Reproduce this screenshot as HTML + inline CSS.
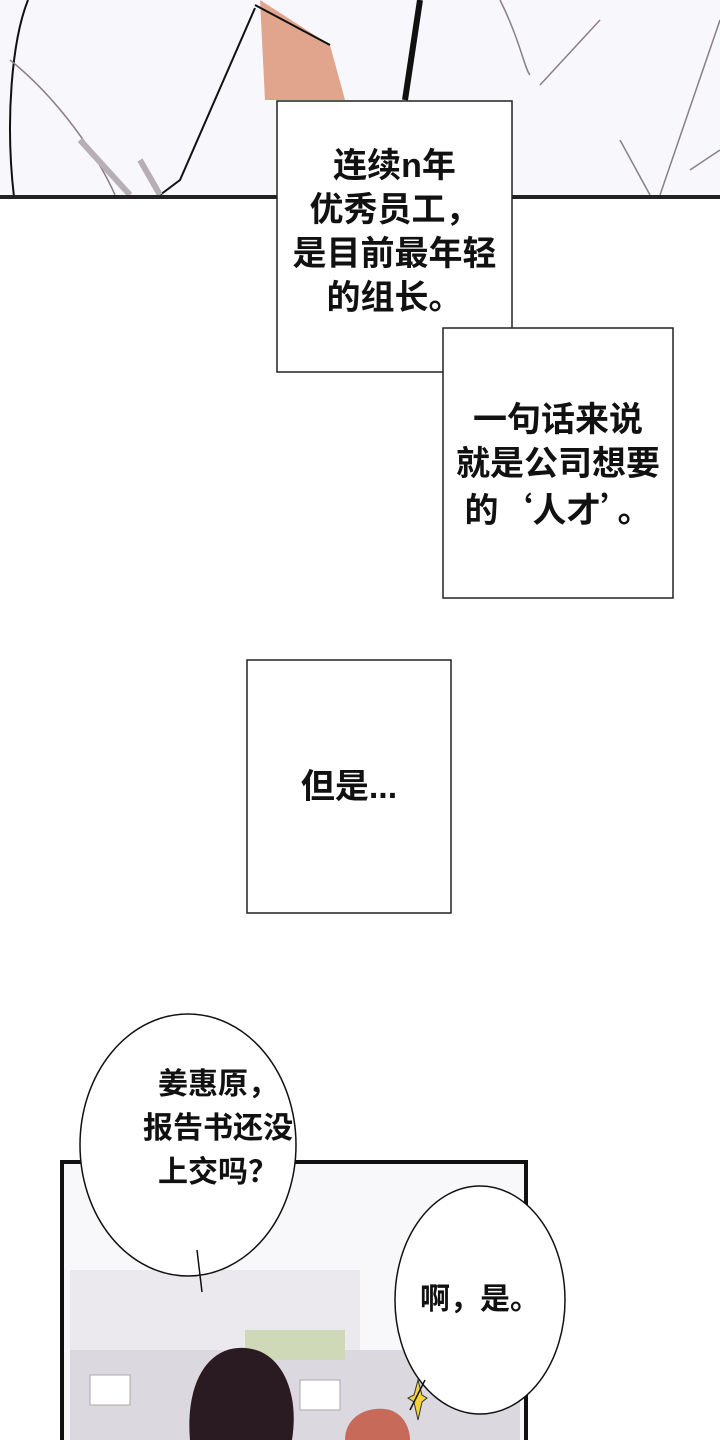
<!DOCTYPE html>
<html><head><meta charset="utf-8"><style>
body{margin:0;width:720px;height:1440px;background:#fff;position:relative;overflow:hidden;font-family:"Liberation Sans","Noto Sans CJK SC",sans-serif;}
.t{position:absolute;font-weight:bold;font-size:34px;color:#111;text-align:center;line-height:44px;white-space:nowrap}
.cj{font-family:"Noto Sans CJK SC",sans-serif}
</style></head><body>
<svg width="720" height="1440" style="position:absolute;left:0;top:0">
<rect x="0" y="0" width="720" height="197" fill="#f7f7fc"/>
<path d="M14,197 C5,120 12,40 28,0" stroke="#111" stroke-width="2" fill="none"/>
<path d="M10,60 C60,100 100,160 115,195" stroke="#8a7f88" stroke-width="1.5" fill="none"/>
<path d="M255,8 L180,180 L160,195" stroke="#111" stroke-width="2" fill="none"/>
<path d="M260,0 L330,45 L345,100 L265,100 Z" fill="#e0a58c"/>
<path d="M255,5 L330,45" stroke="#111" stroke-width="2" fill="none"/>
<path d="M420,0 L405,100" stroke="#111" stroke-width="6" fill="none"/>
<path d="M500,0 C520,40 525,70 530,75 M600,20 L540,85" stroke="#8a7f88" stroke-width="1.5" fill="none"/>
<path d="M720,20 L660,195 M620,140 L650,195 M690,170 L720,150" stroke="#8a7f88" stroke-width="1.5" fill="none"/>
<path d="M80,140 L130,195 M140,160 L160,195" stroke="#b8aeb6" stroke-width="6" fill="none"/>
<rect x="0" y="195" width="720" height="4" fill="#222"/>
<rect x="277" y="101" width="235" height="271" fill="#fff" stroke="#222" stroke-width="1.5"/>
<rect x="443" y="328" width="230" height="270" fill="#fff" stroke="#222" stroke-width="1.5"/>
<rect x="247" y="660" width="204" height="253" fill="#fff" stroke="#222" stroke-width="1.5"/>
<rect x="62" y="1162" width="464" height="280" fill="#f8f7fa" stroke="#111" stroke-width="4"/>
<rect x="70" y="1270" width="290" height="170" fill="#ebe8ee"/>
<rect x="70" y="1350" width="450" height="90" fill="#dcd8df"/>
<rect x="245" y="1330" width="100" height="30" fill="#cfd9b8"/>
<rect x="90" y="1375" width="40" height="30" fill="#fff" stroke="#aaa"/>
<rect x="300" y="1380" width="40" height="30" fill="#fff" stroke="#aaa"/>
<path d="M190,1440 C185,1380 210,1345 245,1348 C280,1350 300,1390 292,1440 Z" fill="#2a1a22"/>
<path d="M345,1440 C345,1415 370,1405 390,1410 C405,1415 410,1430 410,1440 Z" fill="#c86a5a"/>
<path d="M418,1380 L422,1395 L427,1398 L422,1402 L418,1420 L414,1402 L408,1398 L414,1395 Z" fill="#f3d23a" stroke="#333" stroke-width="1"/>
<ellipse cx="188" cy="1145" rx="108" ry="131" fill="#fff" stroke="#111" stroke-width="1.5"/>
<path d="M197,1250 L202,1292" stroke="#111" stroke-width="1.5"/>
<ellipse cx="480" cy="1300" rx="85" ry="114" fill="#fff" stroke="#111" stroke-width="1.5"/>
<path d="M425,1380 L410,1410" stroke="#111" stroke-width="1.5"/>
</svg>
<div class="t" style="left:277px;width:235px;top:144px">连续n年<br>优秀员工，<br>是目前最年轻<br>的组长。</div>
<div class="t" style="left:443px;width:230px;top:398px">一句话来说<br>就是公司想要<br>的<span class="cj">‘</span>人才<span class="cj">’</span>。</div>
<div class="t" style="left:247px;width:204px;top:765px">但是...</div>
<div class="t" style="left:110px;width:216px;top:1063px;font-size:30px">姜惠原，<br>报告书还没<br>上交吗？</div>
<div class="t" style="left:395px;width:170px;top:1278px;font-size:30px">啊，是。</div>
</body></html>
